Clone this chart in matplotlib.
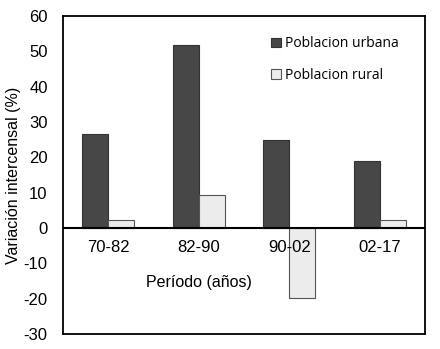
import matplotlib.pyplot as plt
import numpy as np

periodos = ["70-82", "82-90", "90-02", "02-17"]
urbana = [26.7, 51.8, 25.0, 19.0]
rural = [2.2, 9.2, -19.9, 2.4]

plt.rcParams['font.family'] = ['Liberation Sans', 'DejaVu Sans']
plt.rcParams['axes.unicode_minus'] = False

fig = plt.figure(figsize=(4.4, 3.49), dpi=100)
ax = fig.add_axes([63/440, 1-334/349, 362/440, 318/349])

x = np.arange(len(periodos))
w = 0.285
ax.bar(x - w/2, urbana, w, color='#474747', edgecolor='#333333', lw=0.8,
       label='Poblacion urbana')
ax.bar(x + w/2, rural, w, color='#ececec', edgecolor='#555555', lw=0.8,
       label='Poblacion rural')

ax.axhline(0, color='black', lw=1.5)
ax.set_xlim(-0.5, 3.5)
ax.set_ylim(-30, 60)
ax.set_yticks(range(-30, 61, 10))
ax.tick_params(axis='y', length=0, labelsize=12, pad=11)
ax.set_xticks([])
for i, p in enumerate(periodos):
    ax.text(i, -5.4, p, ha='center', va='center', fontsize=12)
ax.text(1.0, -15.3, 'Período (años)', ha='center', va='center', fontsize=11.5)
ax.set_ylabel('Variación intercensal (%)', fontsize=11.5, labelpad=2)

for s in ax.spines.values():
    s.set_linewidth(1.3)

ax.legend(loc='upper left', bbox_to_anchor=(0.54, 0.975), frameon=False,
          labelspacing=1.2, handlelength=0.7, handleheight=0.7,
          handletextpad=0.3, prop={'family': 'Open Sans', 'size': 10})

fig.savefig('out.png', dpi=100)
